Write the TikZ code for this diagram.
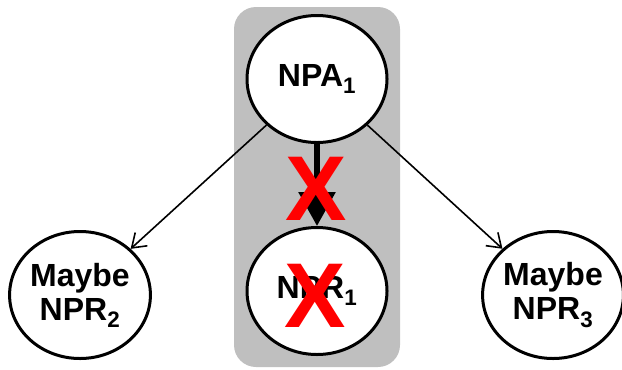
\documentclass[tikz,border=0pt]{standalone}
\usepackage{fontspec}
\setmainfont{Liberation Sans}
\usetikzlibrary{shapes.geometric,arrows.meta}
\tikzset{
    phrase/.style={ellipse,draw,line width=3bp,fill=white,inner sep=0pt,
        minimum width=140bp,minimum height=127bp,align=center,
        font=\fontsize{32bp}{34bp}\selectfont\bfseries},
    cross/.style={text=red,inner sep=0pt,
        font=\fontsize{92bp}{92bp}\selectfont\bfseries}
}
\begin{document}
\begin{tikzpicture}[x=1bp,y=-1bp]
\useasboundingbox (0,0) rectangle (622,369);
\fill[black!25,rounded corners=22bp] (234,7) rectangle (400,367);
\node[phrase] (npa1) at (317,79) {NPA\textsubscript{1}};
\node[phrase] (npr1) at (317,291) {NPR\textsubscript{1}};
\foreach \i/\x in {2/80,3/553} {
    \node[phrase] (npr\i) at (\x,295) {Maybe\\NPR\textsubscript{\i}};
    \draw[line width=1.6bp,-{Straight Barb[length=13bp,width=18bp]}] (npa1) -- (npr\i);
}
\draw[line width=6bp,-{Triangle[length=34bp,width=36bp]}] (npa1) -- (npr1);
\node[cross] (x1) at (316,189) {X};
\node[cross] (x2) at (315,296) {X};
\end{tikzpicture}
\end{document}
